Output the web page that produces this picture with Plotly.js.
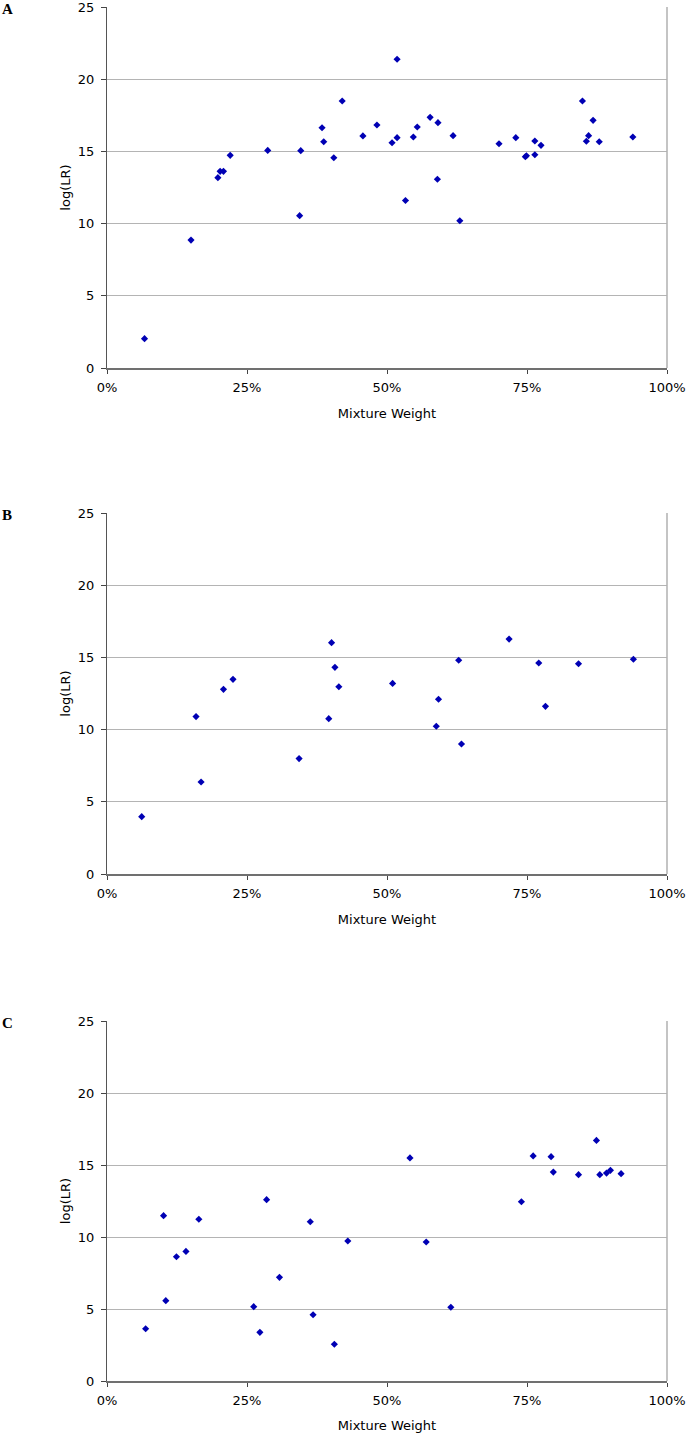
<!DOCTYPE html>
<html>
<head>
<meta charset="utf-8">
<script src="https://cdn.plot.ly/plotly-3.0.1.min.js"></script>
<style>html,body{margin:0;padding:0;background:#fff}#chart{width:687px;height:1433px}</style>
</head>
<body>
<div id="chart"></div>
<script>
// Panel A
const weightA = [0.067,0.150,0.198,0.202,0.208,0.220,0.287,0.344,0.346,0.384,0.387,0.405,0.420,0.457,0.482,0.509,0.518,0.518,0.533,0.547,0.554,0.577,0.591,0.590,0.618,0.630,0.700,0.730,0.747,0.749,0.764,0.764,0.775,0.849,0.856,0.860,0.868,0.879,0.939];
const logLRA  = [2.03,8.86,13.18,13.62,13.62,14.73,15.07,10.55,15.05,16.64,15.67,14.56,18.49,16.07,16.83,15.60,21.38,15.95,11.60,16.00,16.69,17.36,16.99,13.07,16.09,10.20,15.53,15.95,14.63,14.70,15.72,14.77,15.42,18.49,15.70,16.09,17.15,15.67,16.00];
// Panel B
const weightB = [0.062,0.159,0.168,0.208,0.225,0.343,0.396,0.401,0.407,0.414,0.510,0.592,0.588,0.628,0.633,0.718,0.771,0.783,0.842,0.940];
const logLRB  = [3.97,10.90,6.37,12.79,13.48,7.99,10.76,16.02,14.31,12.97,13.20,12.10,10.23,14.80,9.00,16.27,14.61,11.61,14.56,14.87];
// Panel C
const weightC = [0.069,0.101,0.105,0.124,0.141,0.164,0.262,0.273,0.285,0.308,0.363,0.368,0.406,0.430,0.541,0.570,0.614,0.740,0.761,0.793,0.797,0.842,0.874,0.880,0.892,0.899,0.918];
const logLRC  = [3.63,11.48,5.58,8.63,9.00,11.23,5.16,3.38,12.59,7.20,11.06,4.60,2.55,9.72,15.49,9.65,5.12,12.45,15.63,15.58,14.51,14.33,16.71,14.33,14.44,14.63,14.40];

const panelLabels = ["A","B","C"];
const xTickVals = [0,0.25,0.5,0.75,1];
const xTickText = ["0%","25%","50%","75%","100%"];
const yTickVals = [0,5,10,15,20,25];
const xTitle = "Mixture Weight";
const yTitle = "log(LR)";

const W = 687, H = 1433;
const xDom = [107/W, 667/W];
const panels = [
  {top:7, bottom:368},
  {top:513, bottom:874},
  {top:1021, bottom:1381}
];
const datasets = [[weightA,logLRA],[weightB,logLRB],[weightC,logLRC]];
const tickFont = {family:"DejaVu Sans, Verdana, sans-serif", size:13, color:"#000"};

const traces = [];
const layout = {
  width:W, height:H,
  margin:{l:0,r:0,t:0,b:0},
  paper_bgcolor:"#fff", plot_bgcolor:"#fff",
  showlegend:false,
  annotations:[], shapes:[]
};

panels.forEach((p,i)=>{
  const n = i===0 ? "" : String(i+1);
  const xa = "xaxis"+n, ya = "yaxis"+n;
  traces.push({
    type:"scatter", mode:"markers",
    x:datasets[i][0], y:datasets[i][1],
    xaxis:"x"+n, yaxis:"y"+n,
    marker:{symbol:"diamond", size:5.5, color:"#0000b4"},
    hoverinfo:"x+y"
  });
  layout[xa] = {
    domain:xDom, range:[0,1], anchor:"y"+n,
    tickvals:xTickVals, ticktext:xTickText,
    ticks:"outside", ticklen:4, tickcolor:"#444",
    ticklabelstandoff:2, ticklabeloverflow:"allow",
    showgrid:false, zeroline:false,
    showline:true, linecolor:"#707070", linewidth:2,
    tickfont:tickFont,
    title:{text:xTitle, font:tickFont, standoff:15}
  };
  layout[ya] = {
    domain:[1-p.bottom/H, 1-p.top/H], range:[0,25], anchor:"x"+n,
    tickvals:yTickVals,
    ticks:"outside", ticklen:5, tickcolor:"#444",
    ticklabelstandoff:4, ticklabeloverflow:"allow",
    showgrid:true, gridcolor:"#b4b4b4", gridwidth:1,
    zeroline:false,
    showline:true, linecolor:"#555", linewidth:1,
    tickfont:tickFont,
    title:{text:yTitle, font:tickFont, standoff:4}
  };
  layout.shapes.push({
    type:"line", xref:"x"+n+" domain", yref:"y"+n+" domain",
    x0:1, x1:1, y0:0, y1:1,
    line:{color:"#b0b0b0", width:1.5}
  });
  layout.annotations.push({
    text:"<b>"+panelLabels[i]+"</b>", xref:"paper", yref:"paper",
    x:0, y:1-(p.top+1.5)/H, xanchor:"left", yanchor:"middle",
    showarrow:false,
    font:{family:"Liberation Serif, Times New Roman, serif", size:15, color:"#000"}
  });
});

Plotly.newPlot("chart", traces, layout, {displayModeBar:false});
</script>
</body>
</html>
